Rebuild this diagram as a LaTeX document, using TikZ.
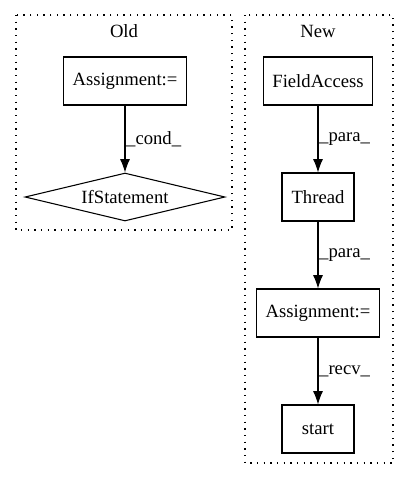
\documentclass[tikz,border=0pt]{standalone}
\usepackage{fontspec}
\setmainfont{Liberation Serif}
\usepackage{tikz}
\usetikzlibrary{positioning, arrows, arrows.meta, shapes}
\usetikzlibrary{shapes.geometric}
\tikzstyle{arrow} = [line width=0.8pt,-{Latex[length=10pt,width=7.5pt]}]

\begin{document}
\begin{tikzpicture}[x=0.75pt,y=-0.75pt]
                    \tikzstyle{every node}=[font=\fontsize{14}{16}\selectfont]
                    \tikzstyle{stmt} = [rectangle, draw=black, line width=0.8pt, minimum width=54pt, minimum height=36pt, inner xsep=7pt]
                    \tikzstyle{cond} = [diamond, draw=black, line width=0.8pt, aspect=4.2, inner sep=0pt, minimum width=150pt, minimum height=36pt]
                    \tikzstyle{cluster} = [line width=0.8pt, dash pattern=on 1pt off 4pt]
                    \tikzstyle{lbl} = [midway, anchor=west, inner sep=0.5pt]

                    \useasboundingbox (0,0) rectangle (408,480);

                    % old version
                    \draw[cluster] (16,15) rectangle (232,230);
                    \node(oldtitle) at (124,31) {Old};
                    \node[stmt](oldassign) at (125,81) {Assignment:=};
                    \node[cond](ifstmt) at (125,197) {IfStatement};

                    % new version
                    \draw[cluster] (245,15) rectangle (393,463);
                    \node(newtitle) at (318,31) {New};
                    \node[stmt](fieldacc) at (318,81) {FieldAccess};
                    \node[stmt](thread) at (318,197) {Thread};
                    \node[stmt](newassign) at (318,313) {Assignment:=};
                    \node[stmt](start) at (318,429) {start};

                    \draw[arrow] (oldassign) -- (ifstmt) node[lbl] {\_cond\_};
                    \draw[arrow] (fieldacc) -- (thread) node[lbl] {\_para\_};
                    \draw[arrow] (thread) -- (newassign) node[lbl] {\_para\_};
                    \draw[arrow] (newassign) -- (start) node[lbl] {\_recv\_};

            \end{tikzpicture}
\end{document}
